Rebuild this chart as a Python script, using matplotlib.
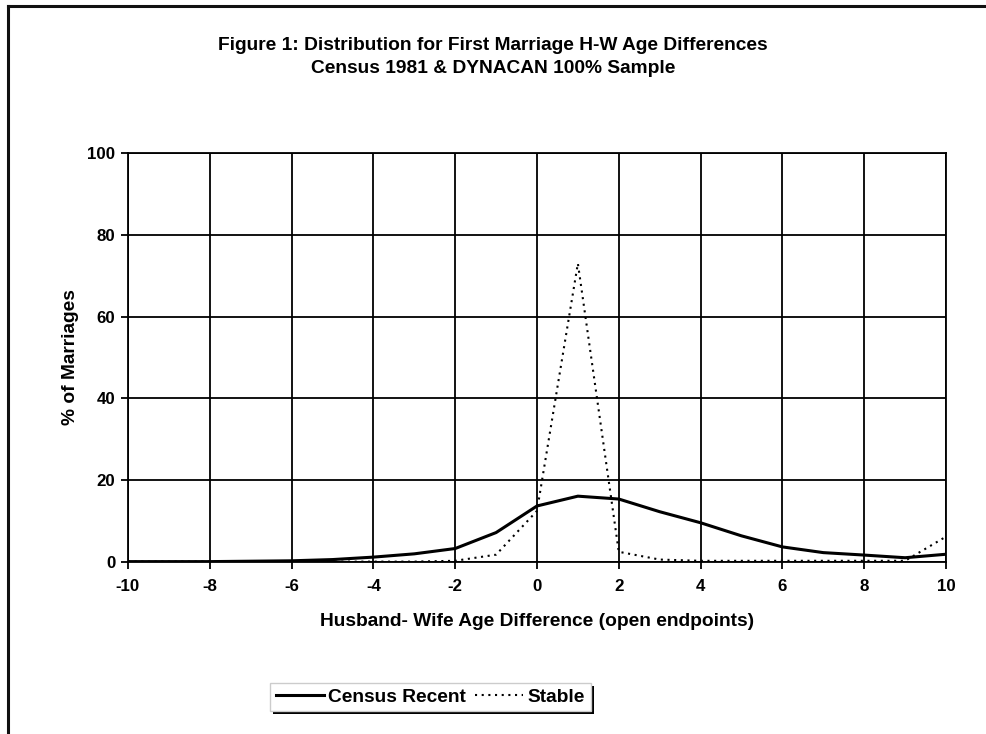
import matplotlib
matplotlib.use("Agg")
import matplotlib.pyplot as plt
from matplotlib.patches import Rectangle
from matplotlib.lines import Line2D

plt.rcParams['font.family'] = ['Liberation Sans', 'DejaVu Sans']
plt.rcParams['font.weight'] = 'bold'
plt.rcParams['axes.unicode_minus'] = False

# Husband minus wife age difference (years), open endpoints at -10 and 10
age_diff = list(range(-10, 11))
census_recent = [0.1, 0.1, 0.1, 0.2, 0.3, 0.6, 1.2, 2.0, 3.3, 7.2, 13.7,
                 16.1, 15.4, 12.3, 9.6, 6.4, 3.7, 2.3, 1.7, 1.05, 1.9]
stable = [0.1, 0.1, 0.1, 0.1, 0.1, 0.1, 0.1, 0.1, 0.3, 1.8, 12.5,
          73.0, 2.5, 0.6, 0.3, 0.3, 0.3, 0.3, 0.3, 0.3, 6.2]

x_ticks = list(range(-10, 11, 2))
y_ticks = list(range(0, 101, 20))

title = "Figure 1: Distribution for First Marriage H-W Age Differences\nCensus 1981 & DYNACAN 100% Sample"
x_label = "Husband- Wife Age Difference (open endpoints)"
y_label = "% of Marriages"
series_names = ["Census Recent", "Stable"]

fig = plt.figure(figsize=(9.86, 7.34), dpi=100)

# page frame: left and top edges only
fig.add_artist(Line2D([0.0085, 0.0085], [0.0, 0.992], transform=fig.transFigure,
                      color='#111111', lw=2.2))
fig.add_artist(Line2D([0.0085, 1.0], [0.992, 0.992], transform=fig.transFigure,
                      color='#111111', lw=2.2))

fig.text(0.5, 0.9225, title, ha='center', va='center', fontsize=13.8,
         fontweight='bold', linespacing=1.45)

ax = fig.add_axes([0.1298, 0.2343, 0.8296, 0.5573])
ax.plot(age_diff, census_recent, color='black', lw=2.2, solid_joinstyle='round',
        label=series_names[0], zorder=3)
ax.plot(age_diff, stable, color='black', lw=1.5, linestyle=(0, (1, 2.2)),
        label=series_names[1], zorder=3)

ax.set_xlim(-10, 10)
ax.set_ylim(0, 100)
ax.set_xticks(x_ticks)
ax.set_yticks(y_ticks)
ax.grid(True, color='black', lw=1.3)
ax.set_axisbelow(True)
for s in ax.spines.values():
    s.set_color('black')
    s.set_linewidth(1.3)
ax.tick_params(axis='both', direction='out', length=5, width=1.3, labelsize=12.2,
               colors='black')
ax.tick_params(axis='x', pad=7)
ax.tick_params(axis='y', pad=4)
ax.set_xlabel(x_label, fontsize=13.8, fontweight='bold', labelpad=14)
ax.set_ylabel(y_label, fontsize=13.8, fontweight='bold', labelpad=6)

leg = fig.legend(loc='center', bbox_to_anchor=(0.4365, 0.0504), ncol=2,
                 frameon=True, fancybox=False, shadow=False, fontsize=13.8,
                 handlelength=2.5, handletextpad=0.25, columnspacing=0.45,
                 borderpad=0.3, borderaxespad=0, framealpha=1.0)
frame = leg.get_frame()
frame.set_facecolor('white')
frame.set_edgecolor('#cccccc')
frame.set_linewidth(1.0)

fig.canvas.draw()
bb = leg.get_window_extent()
inv = fig.transFigure.inverted()
(x0, y0), (x1, y1) = inv.transform([(bb.x0, bb.y0), (bb.x1, bb.y1)])
dx, dy = 3 / 986, 3 / 734
fig.add_artist(Rectangle((x0 + dx, y0 - dy), x1 - x0, y1 - y0,
                         transform=fig.transFigure, facecolor='black',
                         edgecolor='none', zorder=leg.get_zorder() - 0.1))

fig.savefig("out.png", dpi=100, facecolor='white')
